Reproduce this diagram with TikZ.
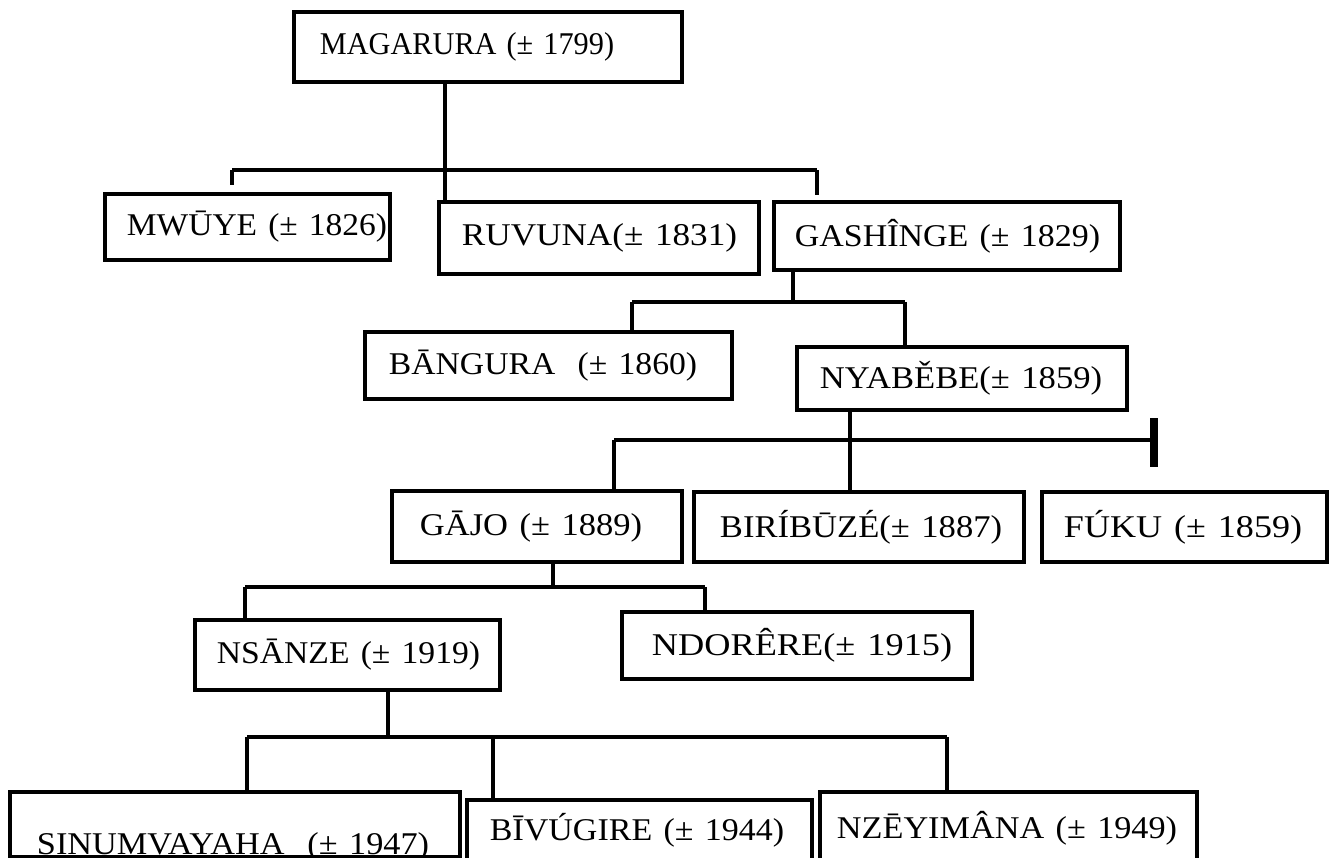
\documentclass[tikz,border=0pt]{standalone}
\usepackage{fontspec}
\usepackage{graphicx}
\setmainfont{Liberation Serif}
\usetikzlibrary{calc}
\newcommand\pname[3]{\hspace*{#1cm}\resizebox{#2cm}{\height}{#3}}
\begin{document}
\begin{tikzpicture}[x=0.01cm,y=-0.01cm,
  person/.style={draw, line width=1.1pt, rectangle, anchor=north west,
    inner xsep=0pt, inner ysep=0pt, align=left,
    font=\fontsize{9}{11}\selectfont},
  link/.style={line width=0.9pt},
  heavy/.style={line width=1.4pt},
  tbar/.style={line width=2.2pt}]
\useasboundingbox (0,0) rectangle (1340,857);
% boxes
\node[person, text width=3.88cm, minimum height=0.70cm] (mag) at (292,10) {\pname{0.26}{2.94}{MAGARURA (±~1799)}};
\node[person, text width=2.85cm, minimum height=0.66cm] (mwu) at (103,192) {\pname{0.22}{2.60}{MWŪYE (±~1826)}};
\node[person, text width=3.20cm, minimum height=0.72cm] (ruv) at (437,200) {\pname{0.23}{2.75}{RUVUNA(±~1831)}};
\node[person, text width=3.46cm, minimum height=0.68cm] (gas) at (772,200) {\pname{0.21}{3.05}{GASHÎNGE (±~1829)}};
\node[person, text width=3.67cm, minimum height=0.67cm] (ban) at (363,330) {\pname{0.24}{3.08}{BĀNGURA~ (±~1860)}};
\node[person, text width=3.30cm, minimum height=0.63cm] (nya) at (795,345) {\pname{0.23}{2.82}{NYABĚBE(±~1859)}};
\node[person, text width=2.90cm, minimum height=0.71cm] (gaj) at (390,489) {\pname{0.28}{2.22}{GĀJO (±~1889)}};
\node[person, text width=3.30cm, minimum height=0.70cm] (bir) at (692,490) {\pname{0.26}{2.82}{BIRÍBŪZÉ(±~1887)}};
\node[person, text width=2.85cm, minimum height=0.70cm] (fuk) at (1040,490) {\pname{0.22}{2.38}{FÚKU (±~1859)}};
\node[person, text width=3.05cm, minimum height=0.70cm] (nsa) at (193,618) {\pname{0.22}{2.63}{NSĀNZE (±~1919)}};
\node[person, text width=3.50cm, minimum height=0.67cm] (ndo) at (620,610) {\pname{0.30}{3.00}{NDORÊRE(±~1915)}};
\node[person, text width=4.50cm, minimum height=0.65cm] (sin) at (8,790) {\pname{0.27}{3.92}{\raisebox{-0.22cm}[\height][\depth]{SINUMVAYAHA~ (±~1947)}}};
\node[person, text width=3.45cm, minimum height=0.60cm] (biv) at (465,798) {\pname{0.23}{2.94}{BĪVÚGIRE (±~1944)}};
\node[person, text width=3.77cm, minimum height=0.72cm] (nze) at (818,790) {\pname{0.17}{3.40}{NZĒYIMÂNA (±~1949)}};
% level 1
\coordinate (j1) at (445,170);
\coordinate (b1l) at (232,170);
\coordinate (b1r) at (817,170);
\draw[link] (mag.south -| j1) -- (j1);
\draw[link] (b1l) -- (b1r);
\draw[link] (b1l) -- ($(mwu.north -| b1l)+(0,-7)$);
\draw[link] (j1) -- (ruv.north -| j1);
\draw[link] (b1r) -- ($(gas.north -| b1r)+(0,-5)$);
% level 2
\coordinate (j2) at (793,302);
\coordinate (b2l) at (632,302);
\coordinate (b2r) at (905,302);
\draw[link] (gas.south -| j2) -- (j2);
\draw[link] (b2l) -- (b2r);
\draw[link] (b2l) -- (ban.north -| b2l);
\draw[link] (b2r) -- (nya.north -| b2r);
% level 3
\coordinate (j3) at (850,440);
\coordinate (b3l) at (614,440);
\coordinate (b3r) at (1154,440);
\coordinate (t3a) at (1154,418);
\coordinate (t3b) at (1154,467);
\draw[link] (nya.south -| j3) -- (j3);
\draw[heavy] (b3l) -- (b3r);
\draw[tbar] (t3a) -- (t3b);
\draw[link] (b3l) -- (gaj.north -| b3l);
\draw[link] (j3) -- (bir.north -| j3);
% level 4
\coordinate (j4) at (553,587);
\coordinate (b4l) at (245,587);
\coordinate (b4r) at (705,587);
\draw[link] (gaj.south -| j4) -- (j4);
\draw[link] (b4l) -- (b4r);
\draw[link] (b4l) -- (nsa.north -| b4l);
\draw[link] (b4r) -- (ndo.north -| b4r);
% level 5
\coordinate (j5) at (388,737);
\coordinate (b5l) at (247,737);
\coordinate (b5m) at (493,737);
\coordinate (b5r) at (947,737);
\draw[link] (nsa.south -| j5) -- (j5);
\draw[heavy] (b5l) -- (b5r);
\draw[link] (b5l) -- (sin.north -| b5l);
\draw[link] (b5m) -- (biv.north -| b5m);
\draw[link] (b5r) -- (nze.north -| b5r);
\end{tikzpicture}
\end{document}
